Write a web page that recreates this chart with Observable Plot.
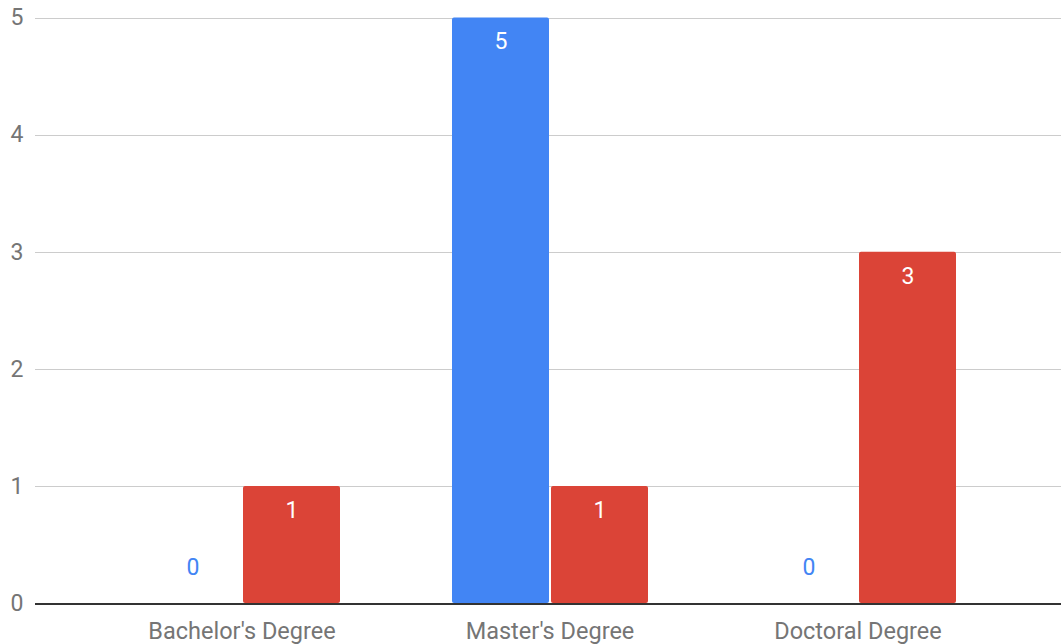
<!DOCTYPE html>
<html>
<head>
<meta charset="utf-8">
<script src="https://cdn.jsdelivr.net/npm/d3@7"></script>
<script src="https://cdn.jsdelivr.net/npm/@observablehq/plot@0.6"></script>
<style>
  html, body { margin: 0; padding: 0; background: #fff; }
  #chart svg { display: block; }
</style>
</head>
<body>
<div id="chart"></div>
<script>
// Degree counts per category, two series
const categories = ["Bachelor's Degree", "Master's Degree", "Doctoral Degree"];
const seriesNames = ["Series 1", "Series 2"];
const series1Values = [0, 5, 0];
const series2Values = [1, 1, 3];
const yTicks = [0, 1, 2, 3, 4, 5];
const seriesColors = ["#4285F4", "#DB4437"];

const rows = categories.flatMap((c, i) => [
  {category: c, series: seriesNames[0], value: series1Values[i]},
  {category: c, series: seriesNames[1], value: series2Values[i]}
]);

const font = "Roboto, 'Noto Sans', sans-serif";

// horizontal rules reach across the gaps between the facet groups,
// and the y tick labels sit at the outer left edge of the plot area
const span = -108;

const chart = Plot.plot({
  width: 1061,
  height: 644,
  marginTop: 17.5,
  marginBottom: 41,
  marginLeft: 35,
  marginRight: -3,
  style: {fontFamily: font, fontSize: "23px", background: "#fff"},
  fx: {domain: categories, paddingInner: 0.36, paddingOuter: 0.35, label: null},
  x: {domain: seriesNames, paddingInner: 0.025, paddingOuter: 0, axis: null},
  y: {domain: [0, 5], label: null},
  color: {domain: seriesNames, range: seriesColors},
  marks: [
    Plot.ruleY(yTicks.filter(d => d > 0), {stroke: "#cccccc", strokeWidth: 1, shapeRendering: "crispEdges", insetLeft: span, insetRight: span}),
    Plot.barY(rows, {fx: "category", x: "series", y: "value", fill: "series", rx: 2}),
    Plot.ruleY([0], {stroke: "#333333", strokeWidth: 2, shapeRendering: "crispEdges", insetLeft: span, insetRight: span}),
    Plot.text(rows.filter(d => d.value > 0), {
      fx: "category", x: "series", y: "value", text: d => String(d.value),
      dy: 24, fill: "#ffffff", fontSize: 23
    }),
    Plot.text(rows.filter(d => d.value === 0), {
      fx: "category", x: "series", y: "value", text: d => String(d.value),
      dy: -36, fill: d => seriesColors[seriesNames.indexOf(d.series)], fontSize: 23
    }),
    Plot.axisY(yTicks, {tickSize: 0, tickPadding: 12, dx: span, tickFormat: d3.format("d"), fill: "#757575", fontSize: 23, label: null}),
    Plot.axisFx({anchor: "bottom", tickSize: 0, tickPadding: 19, fill: "#757575", fontSize: 23.5, label: null})
  ]
});

document.getElementById("chart").appendChild(chart);
</script>
</body>
</html>
